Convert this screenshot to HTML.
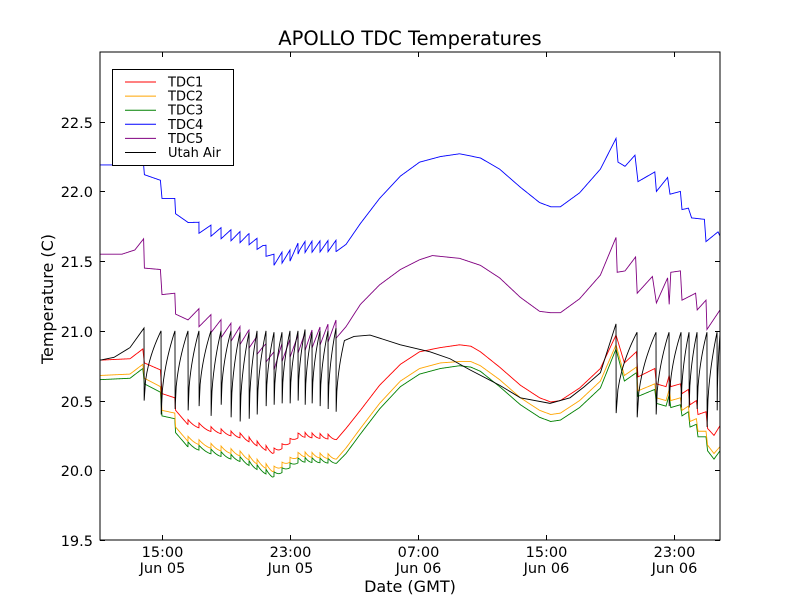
<!DOCTYPE html>
<html><head><meta charset="utf-8"><style>
body{margin:0;background:#fff;width:800px;height:600px;overflow:hidden}
svg text{font-family:"DejaVu Sans","Liberation Sans",sans-serif}
</style></head><body>
<svg id="chart" width="800" height="600" xmlns="http://www.w3.org/2000/svg">
<rect width="800" height="600" fill="#fff"/>
<g id="plot"></g>
<rect x="100" y="52" width="620" height="488" fill="none" stroke="#000" stroke-width="1"/>
<g id="axes"></g>
<text x="410" y="45" font-size="19.5" text-anchor="middle">APOLLO TDC Temperatures</text>
<text x="410" y="592" font-size="16" text-anchor="middle">Date (GMT)</text>
<text x="53" y="299" font-size="16" text-anchor="middle" transform="rotate(-90 53 299)">Temperature (C)</text>
<g>
<rect x="112.5" y="69.5" width="121" height="96" fill="#fff" stroke="#000" stroke-width="1"/>
<g id="legend-items"></g>
</g>
</svg>
<script>
// ---- data (time in hours since Jun 05 00:00 GMT) ----
const xTickHours = [15, 23, 31, 39, 47];
const xTickTimes = ["15:00","23:00","07:00","15:00","23:00"];
const xTickDates = ["Jun 05","Jun 05","Jun 06","Jun 06","Jun 06"];
const yTicks = [19.5, 20.0, 20.5, 21.0, 21.5, 22.0, 22.5];
const seriesNames = ["TDC1","TDC2","TDC3","TDC4","TDC5","Utah Air"];
const seriesColors = ["#ff0000","#ffa500","#008000","#0000ff","#800080","#000000"];

const cycleTimes = [13.875,14.94,15.81,16.625,17.31,18.06,18.69,19.31,19.875,20.44,20.94,21.5,22.0,22.5,23.0,23.5,23.94,24.375,24.875,25.375,25.875,
  43.375,44.69,45.875,46.69,47.44,47.94,48.44,49.06,49.69];
const airPeaks = [21.02,21.0,21.0,21.0,21.0,21.0,21.0,21.0,20.99,20.99,21.0,21.0,20.99,20.99,21.0,21.0,21.01,20.99,21.0,21.0,21.02,
  21.05,20.99,20.99,20.99,20.99,20.99,20.99,20.99,20.99];
const airLows = [20.5,20.4,20.44,20.43,20.46,20.39,20.47,20.38,20.35,20.37,20.4,20.46,20.47,20.48,20.48,20.5,20.47,20.48,20.46,20.44,20.42,
  20.41,20.38,20.4,20.46,20.45,20.45,20.44,20.31,20.43];
const airKnotTimes = [11.125,12,13,26.4,27,28,29.9,31.75,33,34.25,36.1,37.4,39.25,40.5,41.4,42.4,49.875];
const airKnotValues = [20.79,20.81,20.88,20.93,20.96,20.97,20.9,20.85,20.8,20.72,20.61,20.52,20.48,20.52,20.6,20.7,20.98];

const tdc123Times = [11.125,13.0,13.8,13.9,14.9,15.0,15.8,15.85,16.6,18.0,20.0,21.9,22.3,23.6,25.9,26.5,27.4,28.6,29.9,31.1,32.4,33.6,34.3,34.9,36.1,37.4,38.6,39.3,39.9,41.1,42.4,43.375,43.9,44.65,44.75,45.8,45.9,46.5,46.7,46.8,47.4,47.5,47.9,48.0,48.4,48.5,49.0,49.1,49.5,49.875];
const tdc1Values = [20.79,20.80,20.87,20.77,20.72,20.55,20.52,20.43,20.33,20.28,20.23,20.12,20.14,20.24,20.22,20.30,20.43,20.61,20.76,20.85,20.88,20.90,20.89,20.85,20.74,20.61,20.52,20.49,20.50,20.59,20.73,20.97,20.77,20.85,20.67,20.73,20.62,20.60,20.68,20.60,20.62,20.55,20.58,20.47,20.50,20.40,20.42,20.30,20.25,20.32];
const tdc2Values = [20.68,20.69,20.76,20.66,20.60,20.43,20.41,20.31,20.21,20.16,20.10,19.99,20.01,20.10,20.08,20.16,20.30,20.48,20.64,20.73,20.77,20.78,20.78,20.75,20.65,20.52,20.43,20.40,20.41,20.50,20.64,20.90,20.68,20.74,20.57,20.62,20.52,20.50,20.58,20.50,20.52,20.43,20.46,20.35,20.37,20.28,20.28,20.18,20.12,20.17];
const tdc3Values = [20.65,20.66,20.73,20.62,20.56,20.39,20.37,20.27,20.17,20.12,20.06,19.95,19.97,20.06,20.05,20.12,20.26,20.44,20.60,20.69,20.73,20.75,20.74,20.71,20.60,20.47,20.38,20.35,20.36,20.45,20.59,20.87,20.64,20.70,20.53,20.58,20.48,20.46,20.54,20.45,20.47,20.39,20.42,20.31,20.33,20.24,20.24,20.14,20.08,20.14];

const tdc4Times = [11.125,13.85,13.9,14.9,15.0,15.8,15.85,16.6,17.3,18.7,20.4,21.3,22.0,23.0,23.6,25.9,26.5,27.4,28.6,29.9,31.1,32.4,33.6,34.9,36.1,37.4,38.6,39.3,39.9,41.1,42.4,43.375,43.5,43.94,44.56,44.75,45.8,45.9,46.6,46.75,47.4,47.5,47.9,48.1,48.9,49.0,49.75,49.875];
const tdc4Values = [22.19,22.19,22.12,22.08,21.95,21.95,21.84,21.78,21.70,21.66,21.62,21.56,21.47,21.50,21.56,21.57,21.62,21.77,21.95,22.11,22.21,22.25,22.27,22.24,22.16,22.03,21.92,21.89,21.89,21.99,22.16,22.38,22.21,22.18,22.26,22.07,22.14,22.0,22.1,21.98,22.0,21.87,21.88,21.81,21.8,21.64,21.71,21.68];

const tdc5Times = [11.125,12.5,13.3,13.85,13.9,14.9,15.0,15.8,15.85,16.6,17.3,18.7,20.4,21.3,22.0,22.5,23.5,25.4,25.9,26.5,27.4,28.6,29.9,31.1,31.9,33.6,34.9,36.1,37.4,38.6,39.3,39.9,41.1,42.4,43.375,43.45,43.94,44.6,44.7,45.65,45.9,46.6,46.7,46.8,47.4,47.5,48.35,48.45,49.0,49.06,49.875];
const tdc5Values = [21.55,21.55,21.58,21.66,21.45,21.44,21.26,21.27,21.12,21.08,21.03,20.95,20.88,20.80,20.72,20.78,20.84,20.92,20.95,21.03,21.19,21.33,21.44,21.51,21.54,21.52,21.47,21.38,21.24,21.14,21.13,21.13,21.23,21.40,21.67,21.42,21.43,21.53,21.27,21.39,21.20,21.38,21.19,21.42,21.43,21.22,21.27,21.15,21.22,21.01,21.15];

const toothAmps = [0.035,0.035,0.035,0.08,0.13];
const toothWindow = [16.5, 26.0];

// ---- scales ----
const X0=100, X1=720, Y0=540, Y1=52, T0=11.125, T1=49.875, V0=19.5, V1=23.0;
const xs = t => X0 + (t - T0) / (T1 - T0) * (X1 - X0);
const ys = v => Y0 - (v - V0) / (V1 - V0) * (Y0 - Y1);
const NS="http://www.w3.org/2000/svg";
const plot=document.getElementById('plot'), axes=document.getElementById('axes');

function interp(ts, vs, t){
  if(t<=ts[0]) return vs[0];
  for(let i=1;i<ts.length;i++){ if(t<=ts[i]){ const f=(t-ts[i-1])/(ts[i]-ts[i-1]); return vs[i-1]+f*(vs[i]-vs[i-1]); } }
  return vs[vs.length-1];
}
function tooth(t, amp, rise){
  for(let i=0;i<cycleTimes.length-1;i++){
    const a=cycleTimes[i], b=cycleTimes[i+1];
    if(a<toothWindow[0]||b>toothWindow[1]) continue;
    if(t>=a && t<b){ const p=(t-a)/(b-a); return rise ? amp*p : amp*(1-p)*(1-p); }
  }
  return 0;
}
function drawPath(pts, color, name){
  const d = pts.map((p,i)=>(i?'L':'M')+xs(p[0]).toFixed(2)+' '+ys(p[1]).toFixed(2)).join('');
  const el=document.createElementNS(NS,'path');
  el.setAttribute('d',d); el.setAttribute('fill','none'); el.setAttribute('stroke',color); el.setAttribute('stroke-width','0.9');
  
  
  plot.appendChild(el);
}
function tdcSeries(ts, vs, amp, rise, color, name){
  let grid=[];
  for(let t=T0;t<=T1;t+=0.04) grid.push(t);
  ts.forEach(t=>grid.push(t));
  cycleTimes.forEach(c=>{grid.push(c-0.002);grid.push(c+0.002);});
  grid=grid.filter(t=>t>=T0&&t<=T1).sort((a,b)=>a-b);
  drawPath(grid.map(t=>[t, interp(ts,vs,t)+tooth(t,amp,rise)]), color, name);
}
tdcSeries(tdc123Times, tdc3Values, toothAmps[2], false, seriesColors[2], 'line-tdc3');
tdcSeries(tdc123Times, tdc2Values, toothAmps[1], false, seriesColors[1], 'line-tdc2');
tdcSeries(tdc123Times, tdc1Values, toothAmps[0], false, seriesColors[0], 'line-tdc1');
tdcSeries(tdc4Times, tdc4Values, toothAmps[3], true, seriesColors[3], 'line-tdc4');
tdcSeries(tdc5Times, tdc5Values, toothAmps[4], true, seriesColors[4], 'line-tdc5');

// Utah Air: merge knots and cycles
(function(){
  const ev=[];
  airKnotTimes.forEach((t,i)=>ev.push({t, v:airKnotValues[i], cyc:false}));
  cycleTimes.forEach((t,i)=>ev.push({t, v:airPeaks[i], low:airLows[i], cyc:true}));
  ev.sort((a,b)=>a.t-b.t);
  const pts=[]; let rising=false;
  ev.forEach(e=>{
    if(rising && pts.length){
      const [pt,pv]=pts[pts.length-1];
      for(let k=1;k<=12;k++){ const f=k/12; pts.push([pt+(e.t-pt)*f, pv+(e.v-pv)*Math.sqrt(f)]); }
    } else pts.push([e.t,e.v]);
    if(e.cyc){ pts.push([e.t+0.01, e.low]); rising=true; } else rising=false;
  });
  drawPath(pts.filter(p=>p[0]<=T1), seriesColors[5], 'line-utah-air');
})();

// ---- axes ----
yTicks.forEach(v=>{
  const y=Math.round(ys(v))+0.5;
  const g=document.createElementNS(NS,'g');
  
  
  g.innerHTML=`<line x1="100" y1="${y}" x2="105" y2="${y}" stroke="#000"/><line x1="715" y1="${y}" x2="720" y2="${y}" stroke="#000"/><text x="93" y="${y+5.5}" font-size="14.5" text-anchor="end">${v.toFixed(1)}</text>`;
  axes.appendChild(g);
});
xTickHours.forEach((h,i)=>{
  const x=Math.round(xs(h))+0.5;
  const g=document.createElementNS(NS,'g');
  
  
  g.innerHTML=`<line x1="${x}" y1="540" x2="${x}" y2="535" stroke="#000"/><line x1="${x}" y1="52" x2="${x}" y2="57" stroke="#000"/><text x="${x}" y="557" font-size="14.5" text-anchor="middle">${xTickTimes[i]}</text><text x="${x}" y="573" font-size="14.5" text-anchor="middle">${xTickDates[i]}</text>`;
  axes.appendChild(g);
});

// ---- legend ----
const leg=document.getElementById('legend-items');
seriesNames.forEach((n,i)=>{
  const y=82+i*14.1;
  const g=document.createElementNS(NS,'g');
  
  
  g.innerHTML=`<line x1="125" y1="${y}" x2="156" y2="${y}" stroke="${seriesColors[i]}" stroke-width="1"/><text x="168" y="${y+4.5}" font-size="13">${n}</text>`;
  leg.appendChild(g);
});
</script>
</body></html>
